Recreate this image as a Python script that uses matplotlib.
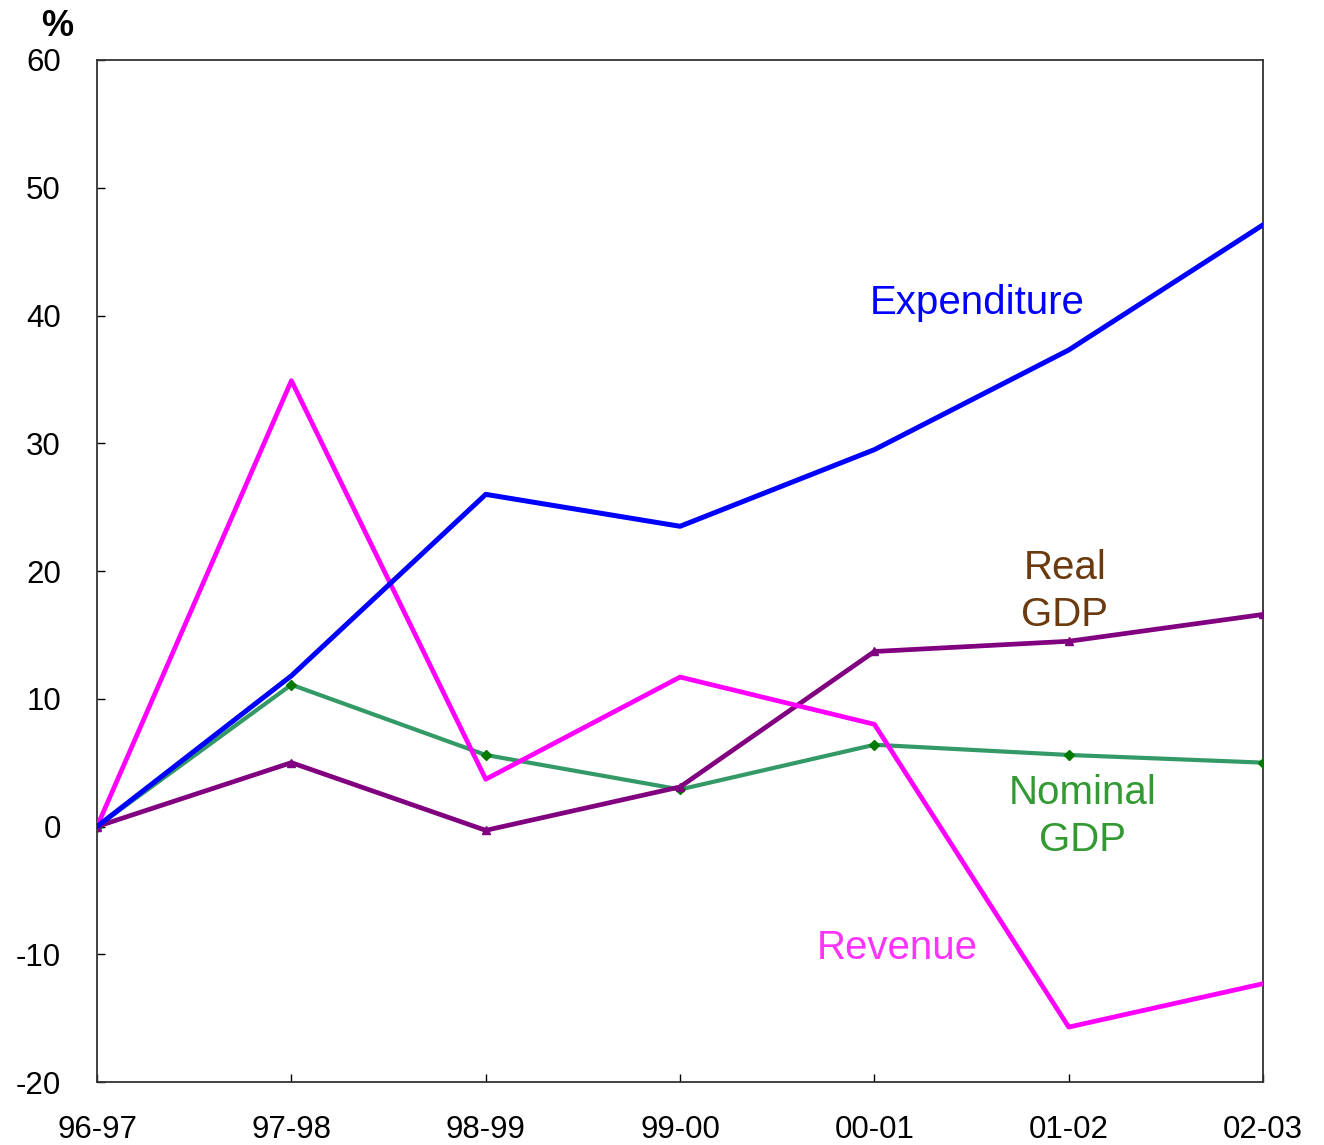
import matplotlib
matplotlib.use("Agg")
import matplotlib.pyplot as plt

years = ["96-97", "97-98", "98-99", "99-00", "00-01", "01-02", "02-03"]
expenditure = [0, 11.8, 26.0, 23.5, 29.5, 37.3, 47.1]
revenue = [0, 34.9, 3.7, 11.7, 8.0, -15.7, -12.3]
nominal_gdp = [0, 11.1, 5.6, 2.9, 6.4, 5.6, 5.0]
real_gdp = [0, 5.0, -0.3, 3.1, 13.7, 14.5, 16.6]
yticks = [-20, -10, 0, 10, 20, 30, 40, 50, 60]
ytick_labels = ["-20", "-10", "0", "10", "20", "30", "40", "50", "60"]

plt.rcParams['font.family'] = ['Liberation Sans', 'DejaVu Sans']

fig = plt.figure(figsize=(13.24, 11.45), dpi=100)
ax = fig.add_axes([0.0733, 0.055, 0.8807, 0.8926])
x = list(range(len(years)))

ax.plot(x, nominal_gdp, color="#339966", lw=3.0, marker="D", ms=5,
        mfc="#007a00", mec="#007a00", zorder=3)
ax.plot(x, real_gdp, color="#800080", lw=3.4, marker="^", ms=6,
        mfc="#800080", mec="#800080", zorder=4)
ax.plot(x, revenue, color="#FF00FF", lw=3.4, zorder=5)
ax.plot(x, expenditure, color="#0000FF", lw=3.6, zorder=6)

ax.set_xlim(0, 6)
ax.set_ylim(-20, 60)
ax.set_xticks(x)
ax.set_xticklabels(years)
ax.set_yticks(yticks)
ax.set_yticklabels(ytick_labels)
ax.tick_params(axis="both", direction="in", length=6, width=1, labelsize=22.5,
               colors="black")
ax.tick_params(axis="x", pad=24)
ax.tick_params(axis="y", pad=26)
for s in ax.spines.values():
    s.set_linewidth(1.3)
    s.set_color("#333333")

ax.text(4.53, 41.0, "Expenditure", color="#0000FF", fontsize=29,
        ha="center", va="center")
ax.text(4.98, 18.4, "Real\nGDP", color="#6B3A0E", fontsize=29,
        ha="center", va="center", linespacing=1.3)
ax.text(5.07, 0.8, "Nominal\nGDP", color="#339933", fontsize=29,
        ha="center", va="center", linespacing=1.3)
ax.text(4.12, -9.5, "Revenue", color="#FF33FF", fontsize=29,
        ha="center", va="center")

fig.text(57 / 1324, 1 - 27 / 1145, "%", fontsize=26, fontweight="bold",
         ha="center", va="center")

fig.savefig("out.png", dpi=100)
